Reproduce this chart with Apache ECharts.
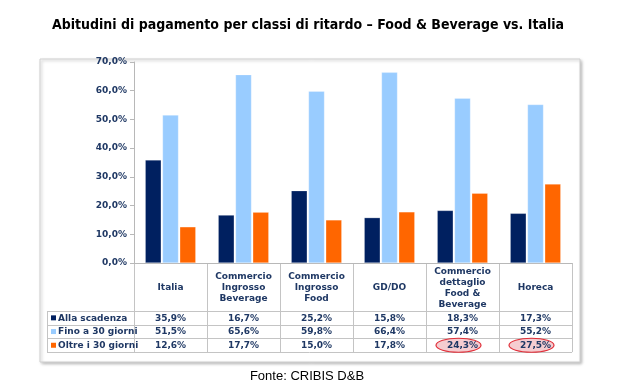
<!DOCTYPE html>
<html><head><meta charset="utf-8">
<script src="https://cdn.jsdelivr.net/npm/echarts@6/dist/echarts.min.js"></script>
<style>html,body{margin:0;padding:0;background:#fff}#c{width:625px;height:384px}</style>
</head><body><div id="c"></div>
<script>
const categories = ['Italia','Commercio\nIngrosso\nBeverage','Commercio\nIngrosso\nFood','GD/DO','Commercio\ndettaglio\nFood &\nBeverage','Horeca'];
const seriesNames = ['Alla scadenza','Fino a 30 giorni','Oltre i 30 giorni'];
const allaScadenza = [35.9,16.7,25.2,15.8,18.3,17.3];
const fino30 = [51.5,65.6,59.8,66.4,57.4,55.2];
const oltre30 = [12.6,17.7,15.0,17.8,24.3,27.5];
const yTicks = [0,10,20,30,40,50,60,70];
const highlighted = [[2,4],[2,5]];
const colors = ['#002060','#99ccff','#ff6600'];
const titleText = 'Abitudini di pagamento per classi di ritardo \u2013 Food & Beverage vs. Italia';
const sourceText = 'Fonte: CRIBIS D&B';

const fmt = v => v.toFixed(1).replace('.', ',') + '%';
const rows = [allaScadenza, fino30, oltre30];
const navy = '#1f3864';
const tfont = 'bold 9px "DejaVu Sans", Verdana, sans-serif';

const gridL = 134, gridR = 572, gridT = 62, gridB = 263;
const chart = echarts.init(document.getElementById('c'));
chart.setOption({
  animation: false,
  backgroundColor: '#fff',
  grid: {left: gridL, right: 625 - gridR, top: gridT, bottom: 384 - gridB, containLabel: false},
  xAxis: {type: 'category', data: categories,
    axisLine: {lineStyle: {color: '#b8b8b8'}}, axisTick: {show: false}, axisLabel: {show: false}},
  yAxis: {type: 'value', min: yTicks[0], max: yTicks[yTicks.length-1], interval: 10,
    axisLine: {show: true, lineStyle: {color: '#b8b8b8'}},
    axisTick: {show: true, length: 4, lineStyle: {color: '#b8b8b8'}},
    splitLine: {show: false},
    axisLabel: {formatter: v => fmt(v), color: navy, fontFamily: '"DejaVu Sans", Verdana, sans-serif', fontWeight: 'bold', fontSize: 9, margin: 7}},
  series: rows.map((d, i) => ({
    type: 'bar', name: seriesNames[i], data: d, barWidth: 16, barGap: '8%',
    itemStyle: {color: colors[i], borderColor: 'rgba(255,255,255,0.5)', borderWidth: 0.5}
  }))
});

const xs = categories.map((c, i) => chart.convertToPixel({xAxisIndex: 0}, i));
const colW = (gridR - gridL) / categories.length;
const headerB = 311, rowH = 13.7, legL = 47;
const rowY = [headerB, headerB + rowH, headerB + 2*rowH, headerB + 3*rowH];
const lc = '#c4c4c4';
const els = [];
els.push({type: 'rect', z: -10, shape: {x: 40, y: 59, width: 540, height: 303},
  style: {fill: '#fff', stroke: '#cfcfcf', lineWidth: 1, shadowBlur: 3, shadowOffsetX: 1.5, shadowOffsetY: 1.5, shadowColor: 'rgba(0,0,0,0.25)'}});
els.push({type: 'text', style: {text: titleText, x: 308, y: 25, font: 'bold 14px "DejaVu Sans Condensed", "Liberation Sans", sans-serif', fill: '#000', align: 'center', verticalAlign: 'middle', textAlign: 'center', textVerticalAlign: 'middle'}});
els.push({type: 'text', style: {text: sourceText, x: 307, y: 376, font: '13px "Liberation Sans", Arial, sans-serif', fill: '#000', align: 'center', verticalAlign: 'middle', textAlign: 'center', textVerticalAlign: 'middle'}});
// vertical lines
for (let i = 0; i <= categories.length; i++) {
  const x = Math.round(gridL + i * colW) + 0.5;
  els.push({type: 'line', shape: {x1: x, y1: gridB, x2: x, y2: rowY[3]}, style: {stroke: lc, lineWidth: 1}});
}
els.push({type: 'line', shape: {x1: legL + 0.5, y1: rowY[0], x2: legL + 0.5, y2: rowY[3]}, style: {stroke: lc, lineWidth: 1}});
rowY.forEach(y => els.push({type: 'line', shape: {x1: legL, y1: Math.round(y) + 0.5, x2: gridR, y2: Math.round(y) + 0.5}, style: {stroke: lc, lineWidth: 1}}));
// headers
categories.forEach((c, i) => {
  els.push({type: 'text', style: {text: c, x: xs[i], y: (gridB + headerB) / 2 + 1, font: tfont, fill: navy, lineHeight: 11,
    align: 'center', verticalAlign: 'middle', textAlign: 'center', textVerticalAlign: 'middle'}});
});
// ellipses
highlighted.forEach(([r, c]) => {
  els.push({type: 'ellipse', shape: {cx: xs[c] - 4, cy: rowY[r] + rowH / 2, rx: 22.5, ry: 7},
    style: {fill: 'rgba(225,110,120,0.35)', stroke: '#e0303a', lineWidth: 1.2}});
});
// rows
rows.forEach((d, r) => {
  const cy = rowY[r] + rowH / 2 + 0.5;
  els.push({type: 'rect', shape: {x: 51, y: cy - 3, width: 5, height: 5}, style: {fill: colors[r]}});
  els.push({type: 'text', style: {text: seriesNames[r], x: 58, y: cy, font: tfont, fill: navy, align: 'left', verticalAlign: 'middle', textAlign: 'left', textVerticalAlign: 'middle'}});
  d.forEach((v, i) => {
    els.push({type: 'text', style: {text: fmt(v), x: xs[i], y: cy, font: tfont, fill: navy, align: 'center', verticalAlign: 'middle', textAlign: 'center', textVerticalAlign: 'middle'}});
  });
});
chart.setOption({graphic: {elements: els}});
</script></body></html>
